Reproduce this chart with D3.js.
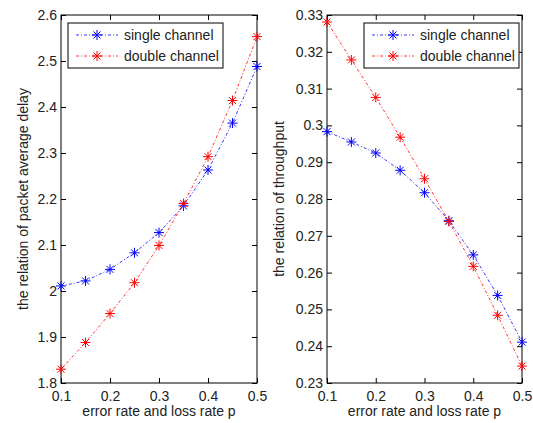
<!DOCTYPE html>
<html>
<head>
<meta charset="utf-8">
<script src="https://cdn.jsdelivr.net/npm/d3@7"></script>
<style>
  body { margin: 0; background: #fff; }
  text { font-family: "Liberation Sans", Arial, sans-serif; fill: #222; }
</style>
</head>
<body>
<svg id="chart" width="533" height="423"></svg>
<script>
// data
var p = [0.1, 0.15, 0.2, 0.25, 0.3, 0.35, 0.4, 0.45, 0.5];
var delaySingle = [2.011, 2.022, 2.047, 2.083, 2.127, 2.185, 2.263, 2.365, 2.488];
var delayDouble = [1.830, 1.888, 1.951, 2.018, 2.099, 2.190, 2.292, 2.414, 2.553];
var thrSingle = [0.2983, 0.2955, 0.2925, 0.2878, 0.2817, 0.2741, 0.2648, 0.2538, 0.2411];
var thrDouble = [0.3281, 0.3178, 0.3076, 0.2968, 0.2855, 0.2739, 0.2617, 0.2484, 0.2346];
var xTicks = [0.1, 0.2, 0.3, 0.4, 0.5];
var delayTicks = [1.8, 1.9, 2, 2.1, 2.2, 2.3, 2.4, 2.5, 2.6];
var thrTicks = [0.23, 0.24, 0.25, 0.26, 0.27, 0.28, 0.29, 0.3, 0.31, 0.32, 0.33];
var seriesNames = ["single channel", "double channel"];
var seriesColors = ["#0000ff", "#ff0000"];

var svg = d3.select("#chart");
var fs = 14;

function star(g, x, y, color) {
  var r = 5;
  var s = g.append("g").attr("transform", "translate(" + x + "," + y + ")")
    .attr("stroke", color).attr("stroke-width", 1);
  s.append("line").attr("x1", -r).attr("x2", r).attr("y1", 0).attr("y2", 0);
  s.append("line").attr("x1", 0).attr("x2", 0).attr("y1", -r).attr("y2", r);
  s.append("line").attr("x1", -r * 0.7).attr("x2", r * 0.7).attr("y1", -r * 0.7).attr("y2", r * 0.7);
  s.append("line").attr("x1", -r * 0.7).attr("x2", r * 0.7).attr("y1", r * 0.7).attr("y2", -r * 0.7);
}

function panel(opt) {
  var x = d3.scaleLinear().domain([0.1, 0.5]).range([opt.left, opt.right]);
  var y = d3.scaleLinear().domain(opt.ydom).range([opt.bottom, opt.top]);
  var g = svg.append("g");
  var tl = 5;

  // axes with inward ticks on all sides
  g.append("g").attr("transform", "translate(0," + opt.bottom + ")")
    .call(d3.axisBottom(x).tickValues(xTicks).tickSize(-tl).tickPadding(8).tickFormat(d3.format("")))
    .call(function(a) { a.select(".domain").remove(); });
  g.append("g").attr("transform", "translate(0," + opt.top + ")")
    .call(d3.axisTop(x).tickValues(xTicks).tickSize(-tl).tickFormat(""))
    .call(function(a) { a.select(".domain").remove(); });
  g.append("g").attr("transform", "translate(" + opt.left + ",0)")
    .call(d3.axisLeft(y).tickValues(opt.yticks).tickSize(-tl).tickPadding(4).tickFormat(function(d) { return +d.toFixed(2) + ""; }))
    .call(function(a) { a.select(".domain").remove(); });
  g.append("g").attr("transform", "translate(" + opt.right + ",0)")
    .call(d3.axisRight(y).tickValues(opt.yticks).tickSize(-tl).tickFormat(""))
    .call(function(a) { a.select(".domain").remove(); });
  g.selectAll(".tick line").attr("stroke", "#000");
  g.selectAll(".tick text").attr("font-size", fs).attr("fill", "#222")
    .style("font-family", "'Liberation Sans', Arial, sans-serif");

  g.append("rect").attr("x", opt.left).attr("y", opt.top)
    .attr("width", opt.right - opt.left).attr("height", opt.bottom - opt.top)
    .attr("fill", "none").attr("stroke", "#000").attr("stroke-width", 1);

  var line = d3.line().x(function(d, i) { return x(p[i]); }).y(function(d) { return y(d); });
  opt.series.forEach(function(vals, k) {
    g.append("path").datum(vals).attr("d", line).attr("fill", "none")
      .attr("stroke", seriesColors[k]).attr("stroke-width", 0.8)
      .attr("stroke-dasharray", "3,2,1,2");
    vals.forEach(function(v, i) { star(g, x(p[i]), y(v), seriesColors[k]); });
  });

  // legend
  var lg = g.append("g");
  lg.append("rect").attr("x", opt.legX).attr("y", 23).attr("width", 155).attr("height", 45)
    .attr("fill", "#fff").attr("stroke", "#000").attr("stroke-width", 1);
  seriesNames.forEach(function(name, k) {
    var ly = 35 + k * 21;
    lg.append("line").attr("x1", opt.legX + 8).attr("x2", opt.legX + 50)
      .attr("y1", ly).attr("y2", ly).attr("stroke", seriesColors[k])
      .attr("stroke-width", 0.8).attr("stroke-dasharray", "3,2,1,2");
    star(lg, opt.legX + 29, ly, seriesColors[k]);
    lg.append("text").attr("x", opt.legX + 56).attr("y", ly + 5).attr("font-size", fs).text(name);
  });

  g.append("text").attr("x", (opt.left + opt.right) / 2).attr("y", 416)
    .attr("text-anchor", "middle").attr("font-size", fs).text("error rate and loss rate p");
  g.append("text").attr("transform", "translate(" + opt.ylabX + "," + (opt.top + opt.bottom) / 2 + ") rotate(-90)")
    .attr("text-anchor", "middle").attr("font-size", fs).text(opt.ylabel);
}

panel({ left: 61, right: 257, top: 15, bottom: 383, ydom: [1.8, 2.6], yticks: delayTicks,
  series: [delaySingle, delayDouble], legX: 68, ylabX: 28,
  ylabel: "the relation of packet average delay" });
panel({ left: 327, right: 522, top: 15, bottom: 383, ydom: [0.23, 0.33], yticks: thrTicks,
  series: [thrSingle, thrDouble], legX: 364, ylabX: 284,
  ylabel: "the relation of throughput" });
</script>
</body>
</html>
